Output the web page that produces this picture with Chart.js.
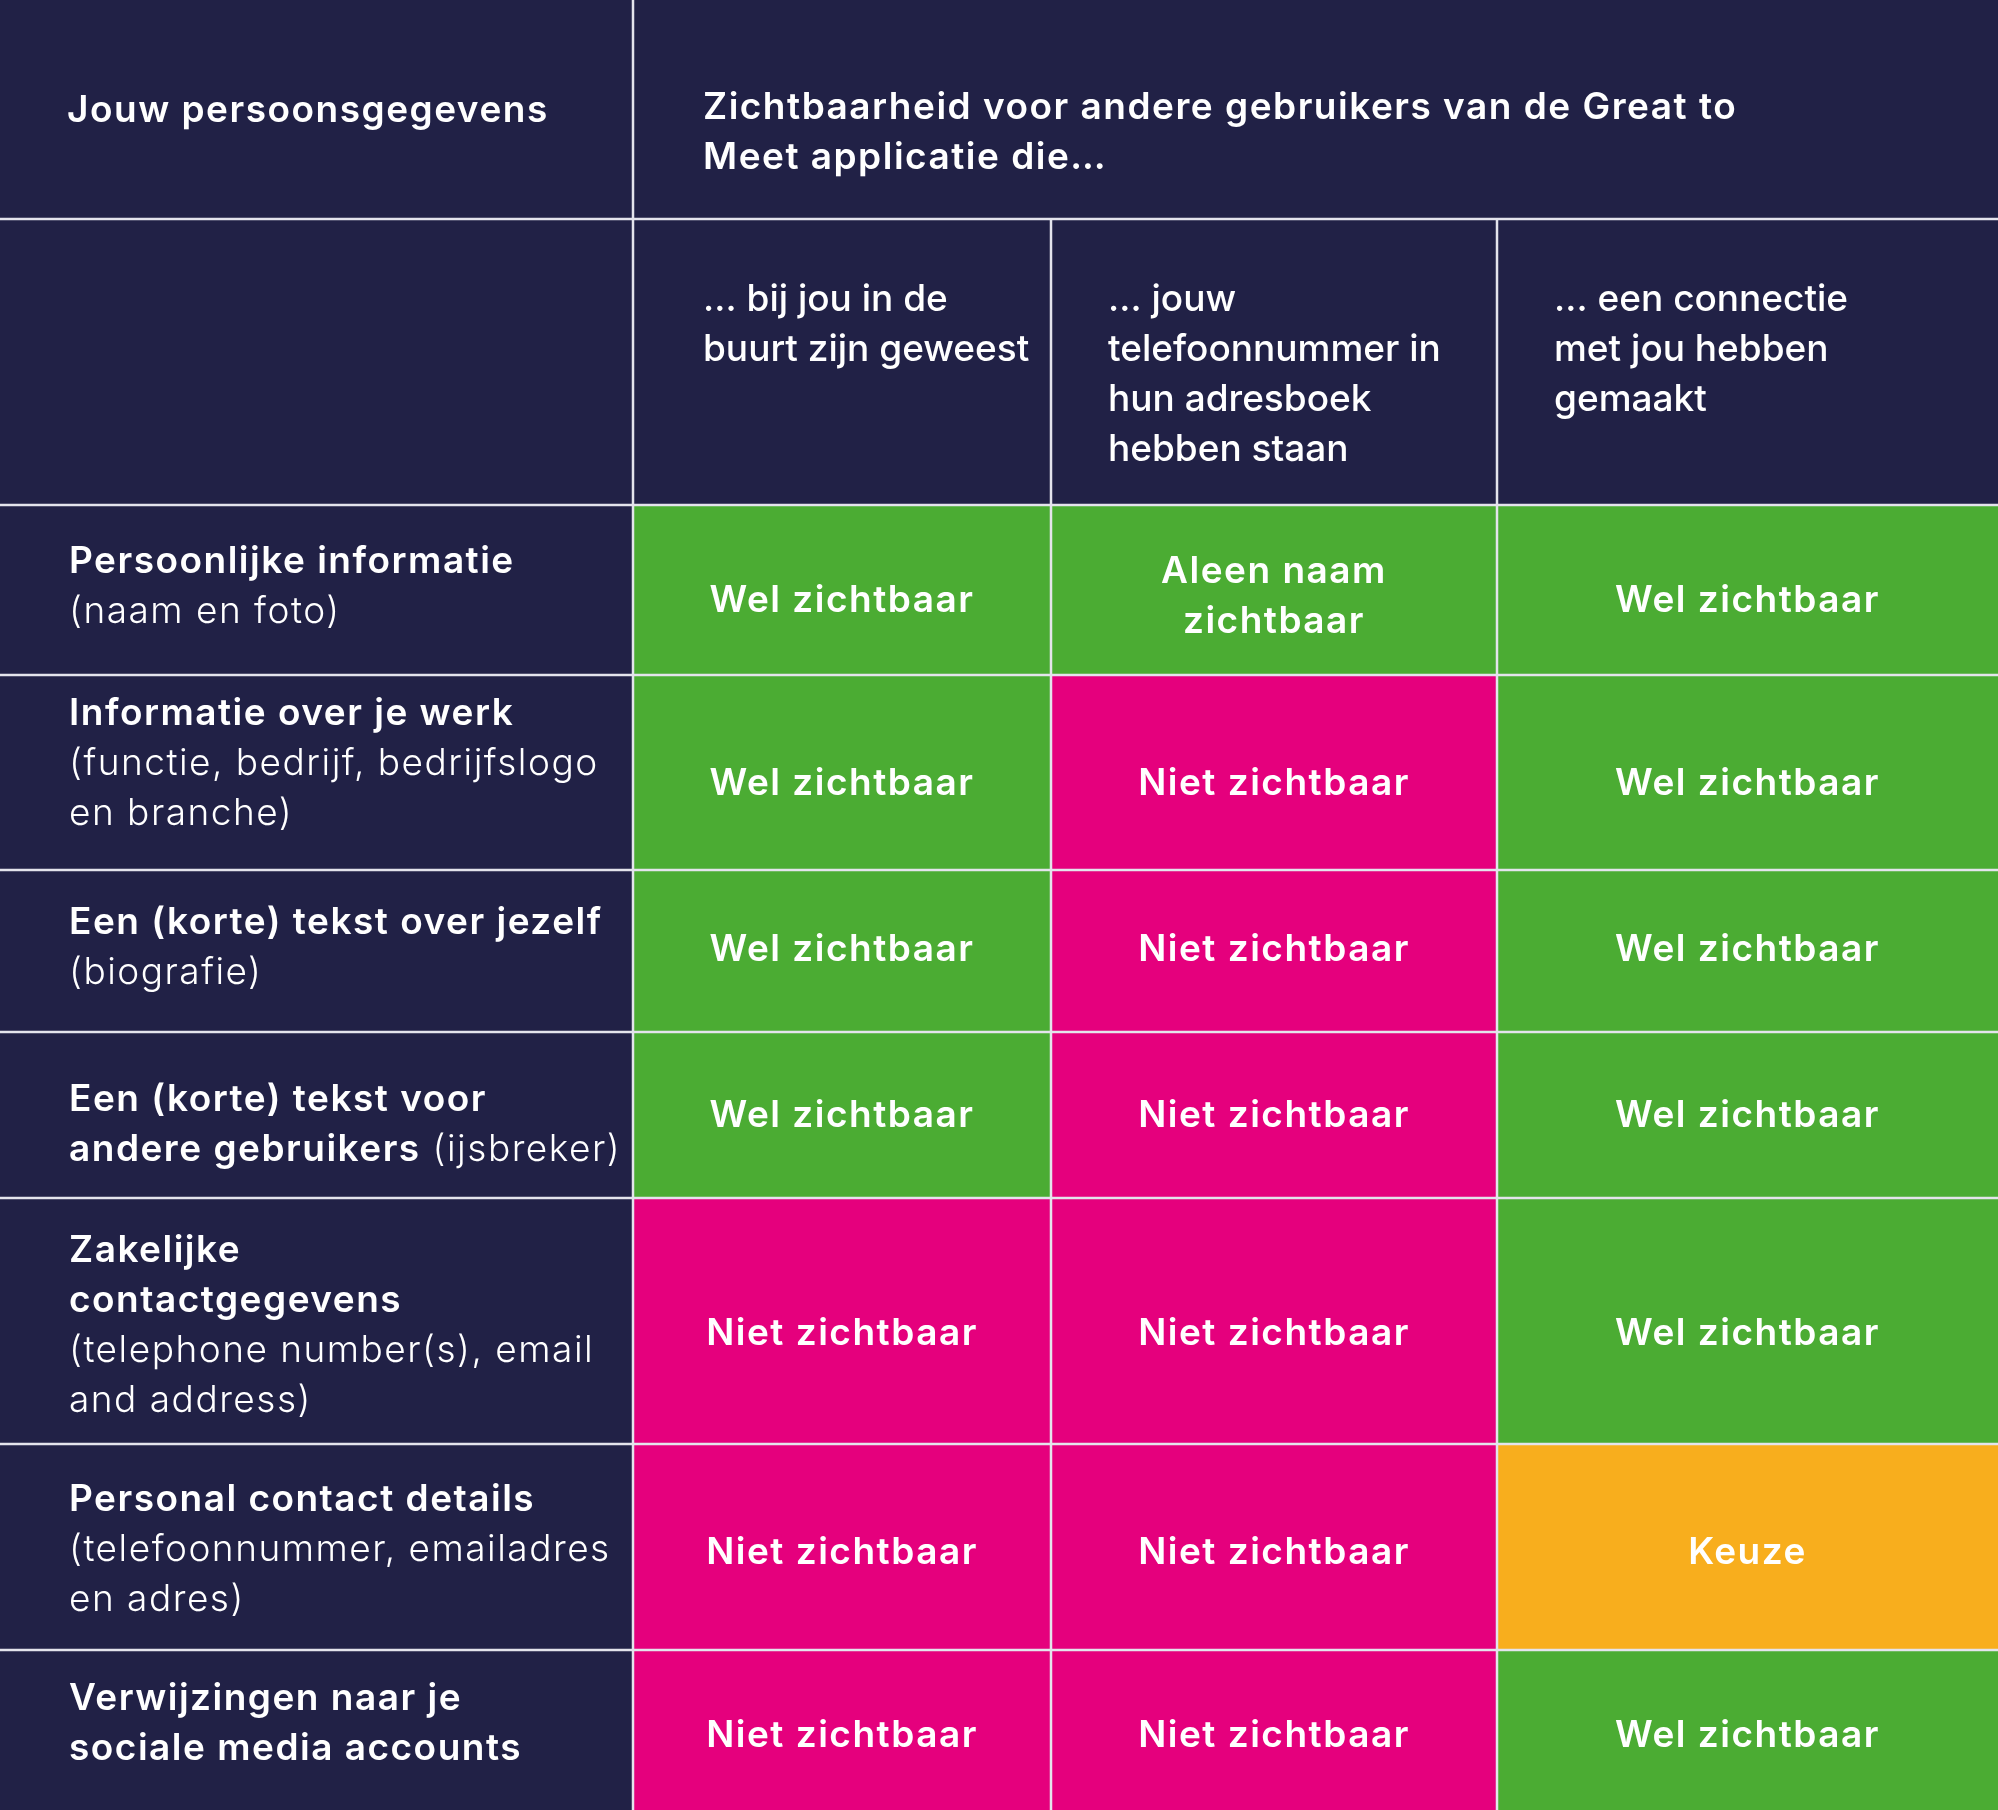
<!DOCTYPE html>
<html lang="nl">
<head>
<meta charset="UTF-8">
<title>Zichtbaarheid persoonsgegevens</title>
<script src="https://cdn.jsdelivr.net/npm/chart.js@4.4.1/dist/chart.umd.min.js"></script>
<style>
    html, body { margin: 0; padding: 0; background: #212146; }
    #wrap { width: 1998px; height: 1810px; }
</style>
</head>
<body>
<div id="wrap"><canvas id="table"></canvas></div>
<script>
    // table content
    const cornerTitle = 'Jouw persoonsgegevens';
    const groupTitle = ['Zichtbaarheid voor andere gebruikers van de Great to', 'Meet applicatie die…'];
    const columnHeaders = [
        ['… bij jou in de', 'buurt zijn geweest'],
        ['… jouw', 'telefoonnummer in', 'hun adresboek', 'hebben staan'],
        ['… een connectie', 'met jou hebben', 'gemaakt']
    ];
    const rowNames = [
        ['Persoonlijke informatie'],
        ['Informatie over je werk'],
        ['Een (korte) tekst over jezelf'],
        ['Een (korte) tekst voor', 'andere gebruikers'],
        ['Zakelijke', 'contactgegevens'],
        ['Personal contact details'],
        ['Verwijzingen naar je', 'sociale media accounts']
    ];
    const rowNotes = [
        ['(naam en foto)'],
        ['(functie, bedrijf, bedrijfslogo', 'en branche)'],
        ['(biografie)'],
        ['(ijsbreker)'],
        ['(telephone number(s), email', 'and address)'],
        ['(telefoonnummer, emailadres', 'en adres)'],
        []
    ];
    const nearbyUsers = ['Wel zichtbaar', 'Wel zichtbaar', 'Wel zichtbaar', 'Wel zichtbaar',
                         'Niet zichtbaar', 'Niet zichtbaar', 'Niet zichtbaar'];
    const addressBookUsers = ['Aleen naam zichtbaar', 'Niet zichtbaar', 'Niet zichtbaar', 'Niet zichtbaar',
                              'Niet zichtbaar', 'Niet zichtbaar', 'Niet zichtbaar'];
    const connectedUsers = ['Wel zichtbaar', 'Wel zichtbaar', 'Wel zichtbaar', 'Wel zichtbaar',
                            'Wel zichtbaar', 'Keuze', 'Wel zichtbaar'];

    // layout (table units, mapped through the chart scales)
    const COL_EDGES = [0, 633, 1051, 1497, 1998];
    const ROW_EDGES = [0, 219, 505, 675, 870, 1032, 1198, 1444, 1650, 1810];
    const INLINE_NOTE_ROWS = [3];
    const LABEL_SHIFT = [0, -6, 0, 13, 8, 6, -3];
    const CELL_SHIFT = [6, 6, -6, -4, 8, 1, 1];
    const LINE_H = 50;
    const PAD_X = 69;
    const FONT = 'Inter, "Open Sans", sans-serif';

    const NAVY = '#212146';
    const statusColor = {
        'Wel zichtbaar': '#4bac33',
        'Aleen naam zichtbaar': '#4bac33',
        'Niet zichtbaar': '#e5007d',
        'Keuze': '#f8ae1d'
    };

    function wrapText(ctx, text, maxW) {
        const words = text.split(' ');
        const lines = [];
        let cur = '';
        words.forEach(w => {
            const test = cur ? cur + ' ' + w : w;
            if (cur && ctx.measureText(test).width > maxW) {
                lines.push(cur);
                cur = w;
            } else {
                cur = test;
            }
        });
        if (cur) lines.push(cur);
        return lines;
    }

    const tablePlugin = {
        id: 'visibilityTable',
        beforeDraw(chart) {
            const { ctx, scales: { x, y } } = chart;
            const px = v => x.getPixelForValue(v);
            const py = v => y.getPixelForValue(v);
            const fontB = '600 37px ' + FONT;
            const fontM = '500 37px ' + FONT;
            const fontL = '300 37px ' + FONT;

            ctx.save();
            ctx.letterSpacing = '1.5px';
            ctx.fillStyle = NAVY;
            ctx.fillRect(px(0), py(0), px(1998) - px(0), py(1810) - py(0));

            // status cells
            const columns = [nearbyUsers, addressBookUsers, connectedUsers];
            columns.forEach((col, c) => {
                col.forEach((status, r) => {
                    const x0 = px(COL_EDGES[c + 1]), x1 = px(COL_EDGES[c + 2]);
                    const y0 = py(ROW_EDGES[r + 2]), y1 = py(ROW_EDGES[r + 3]);
                    ctx.fillStyle = statusColor[status];
                    ctx.fillRect(x0, y0, x1 - x0, y1 - y0);

                    ctx.fillStyle = '#ffffff';
                    ctx.font = fontB;
                    ctx.textAlign = 'center';
                    ctx.textBaseline = 'middle';
                    const lines = wrapText(ctx, status, 330);
                    const cx = (x0 + x1) / 2;
                    const cy = (y0 + y1) / 2 + 5 + CELL_SHIFT[r] * (lines.length === 1 ? 1 : 0.3)
                        - (lines.length - 1) * LINE_H / 2;
                    lines.forEach((l, i) => ctx.fillText(l, cx, cy + i * LINE_H));
                });
            });

            // grid lines
            ctx.strokeStyle = '#e4e4ec';
            ctx.lineWidth = 2.5;
            ctx.beginPath();
            ROW_EDGES.slice(1, -1).forEach(v => {
                ctx.moveTo(px(0), py(v));
                ctx.lineTo(px(1998), py(v));
            });
            ctx.moveTo(px(COL_EDGES[1]), py(0));
            ctx.lineTo(px(COL_EDGES[1]), py(1810));
            COL_EDGES.slice(2, -1).forEach(v => {
                ctx.moveTo(px(v), py(ROW_EDGES[1]));
                ctx.lineTo(px(v), py(1810));
            });
            ctx.stroke();

            // header texts
            ctx.fillStyle = '#ffffff';
            ctx.textAlign = 'left';
            ctx.textBaseline = 'middle';
            ctx.font = fontB;
            ctx.fillText(cornerTitle, px(PAD_X - 2), py(111));
            groupTitle.forEach((l, i) => ctx.fillText(l, px(COL_EDGES[1] + 70), py(108 + i * LINE_H)));
            ctx.font = fontM;
            ctx.letterSpacing = '0px';
            columnHeaders.forEach((lines, c) => {
                const xs = px(COL_EDGES[c + 1] + (c === 0 ? 70 : 57));
                lines.forEach((l, i) => ctx.fillText(l, xs, py(300 + i * LINE_H)));
            });
            ctx.letterSpacing = '1.5px';

            // row labels: bold name, light note
            rowNames.forEach((names, r) => {
                const notes = rowNotes[r];
                const lines = names.map(t => [[t, fontB]]);
                const inline = INLINE_NOTE_ROWS.includes(r);
                notes.forEach((t, i) => {
                    if (i === 0 && inline) lines[lines.length - 1].push([' ' + t, fontL]);
                    else lines.push([[t, fontL]]);
                });
                const mid = (ROW_EDGES[r + 2] + ROW_EDGES[r + 3]) / 2 - 3 + LABEL_SHIFT[r];
                const top = mid - (lines.length - 1) * LINE_H / 2;
                lines.forEach((segs, i) => {
                    let xx = px(PAD_X);
                    segs.forEach(([t, f]) => {
                        ctx.font = f;
                        ctx.fillText(t, xx, py(top + i * LINE_H));
                        xx += ctx.measureText(t).width;
                    });
                });
            });
            ctx.restore();
        }
    };

    new Chart(document.getElementById('table'), {
        type: 'scatter',
        data: { datasets: [{ data: [], pointRadius: 0 }] },
        options: {
            responsive: true,
            maintainAspectRatio: false,
            animation: false,
            layout: { padding: 0 },
            plugins: { legend: { display: false }, tooltip: { enabled: false } },
            scales: {
                x: { type: 'linear', min: 0, max: 1998, display: false },
                y: { type: 'linear', min: 0, max: 1810, reverse: true, display: false }
            }
        },
        plugins: [tablePlugin]
    });
</script>
</body>
</html>
